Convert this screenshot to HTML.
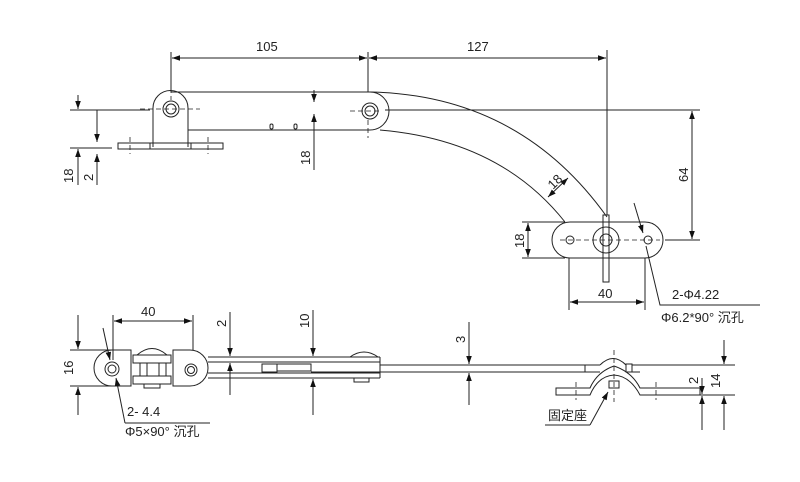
<!DOCTYPE html>
<html><head><meta charset="utf-8"><style>
html,body{margin:0;padding:0;background:#fff;}
svg{display:block;}
text{font-family:"Liberation Sans","Noto Sans CJK SC",sans-serif;font-size:13px;fill:#222;}
</style></head><body>
<svg width="800" height="482" viewBox="0 0 800 482" xmlns="http://www.w3.org/2000/svg">
<defs>
<marker id="a" viewBox="0 0 10 10" refX="10" refY="5" markerWidth="8" markerHeight="8" orient="auto-start-reverse"><path d="M0,1.5 L10,5 L0,8.5z" fill="#111"/></marker>
</defs>
<g stroke="#222" stroke-width="1" fill="none">
<path d="M153,147 L153,108 A17,17 0 0 1 188,108 L188,147"/>
<circle cx="171" cy="109" r="8"/><circle cx="171" cy="109" r="5"/>
<rect x="118" y="143" width="105" height="6"/>
<line x1="150" y1="143" x2="150" y2="149"/><line x1="191" y1="143" x2="191" y2="149"/>
<line x1="171" y1="92" x2="370" y2="92"/>
<line x1="188" y1="130" x2="370" y2="130"/>
<path d="M370,92 A18,18 0 0 1 370,130"/>
<circle cx="370" cy="111" r="8"/><circle cx="370" cy="111" r="5"/>
<rect x="270" y="124" width="3" height="5" rx="1.5"/><rect x="294" y="124" width="3" height="5" rx="1.5"/>
<path d="M370,92 Q520,95 607,217"/>
<path d="M380,130 Q500,140 565,222"/>
<path d="M570,222 L645,222 A18,18 0 0 1 645,258 L570,258 A18,18 0 0 1 570,222z"/>
<circle cx="570" cy="240" r="4"/><circle cx="648" cy="240" r="4"/>
<circle cx="606" cy="240" r="13"/><circle cx="606" cy="240" r="6"/>
<rect x="603" y="215" width="6" height="67"/>
<g stroke-dasharray="5,3" stroke-width="0.8">
<line x1="140" y1="109" x2="200" y2="109"/><line x1="171" y1="80" x2="171" y2="100"/>
<line x1="130" y1="137" x2="130" y2="154"/><line x1="208" y1="137" x2="208" y2="154"/>
<line x1="350" y1="111" x2="380" y2="111"/><line x1="368" y1="120" x2="368" y2="138"/>
<line x1="560" y1="240" x2="660" y2="240"/>
</g>
<line x1="171" y1="52" x2="171" y2="92"/><line x1="368" y1="52" x2="368" y2="92"/><line x1="607" y1="50" x2="607" y2="215"/>
<line x1="172" y1="58" x2="367" y2="58" marker-start="url(#a)" marker-end="url(#a)"/>
<line x1="369" y1="58" x2="606" y2="58" marker-start="url(#a)" marker-end="url(#a)"/>
<line x1="385" y1="110" x2="700" y2="110"/><line x1="665" y1="240" x2="700" y2="240"/>
<line x1="692" y1="111" x2="692" y2="239" marker-start="url(#a)" marker-end="url(#a)"/>
<line x1="522" y1="222" x2="565" y2="222"/><line x1="522" y1="258" x2="565" y2="258"/>
<line x1="528" y1="223" x2="528" y2="257" marker-start="url(#a)" marker-end="url(#a)"/>
<line x1="569" y1="258" x2="569" y2="310"/><line x1="645" y1="258" x2="645" y2="310"/>
<line x1="570" y1="302" x2="644" y2="302" marker-start="url(#a)" marker-end="url(#a)"/>
<line x1="548" y1="197" x2="568" y2="178" marker-start="url(#a)" marker-end="url(#a)"/>
<line x1="634" y1="203" x2="643" y2="233" marker-end="url(#a)"/>
<polyline points="646,246 660,305 760,305"/>
<line x1="70" y1="110" x2="150" y2="110"/><line x1="70" y1="148" x2="112" y2="148"/>
<line x1="78" y1="95" x2="78" y2="109" marker-end="url(#a)"/>
<line x1="78" y1="185" x2="78" y2="149" marker-end="url(#a)"/>
<line x1="97" y1="110" x2="97" y2="142" marker-end="url(#a)"/>
<line x1="97" y1="185" x2="97" y2="154" marker-end="url(#a)"/>
<line x1="314" y1="88" x2="314" y2="100" marker-end="url(#a)" transform="translate(0,2)"/>
<line x1="314" y1="170" x2="314" y2="114" marker-end="url(#a)"/>
<path d="M131,350 L112,350 A18,18 0 0 0 112,386 L131,386z"/>
<circle cx="112" cy="369" r="7"/><circle cx="112" cy="369" r="4"/>
<rect x="133" y="355" width="38" height="8"/><rect x="133" y="376" width="38" height="8"/>
<rect x="140" y="363" width="26" height="13"/><rect x="147" y="363" width="12" height="13"/>
<path d="M137,355 Q152,342 167,355"/>
<rect x="144" y="384" width="16" height="4"/>
<path d="M173,350 L190,350 A18,18 0 0 1 190,386 L173,386z"/>
<circle cx="191" cy="370" r="6"/><circle cx="191" cy="370" r="3.5"/>
<line x1="208" y1="357" x2="380" y2="357"/><line x1="208" y1="362" x2="380" y2="362"/>
<line x1="208" y1="373" x2="380" y2="373"/><line x1="208" y1="378" x2="380" y2="378"/>
<line x1="380" y1="357" x2="380" y2="378"/>
<rect x="262" y="364" width="15" height="8"/><rect x="277" y="364" width="34" height="7"/>
<line x1="311" y1="372" x2="380" y2="372"/>
<path d="M350,357 Q364,347 378,357"/>
<rect x="354" y="378" width="15" height="4"/>
<line x1="380" y1="365" x2="600" y2="365"/><line x1="380" y1="372" x2="600" y2="372"/>
<line x1="585" y1="365" x2="585" y2="372"/>
<path d="M600,365 Q613,352 626,365"/>
<rect x="626" y="364" width="6" height="8"/>
<line x1="632" y1="365" x2="720" y2="365"/><line x1="632" y1="372" x2="640" y2="372"/>
<path d="M556,388 L590,388 Q597,372 614,366 Q632,372 640,388 L700,388 L700,395 L640,395 Q630,376 614,375 Q598,376 590,395 L556,395z"/>
<rect x="609" y="381" width="10" height="7"/>
<g stroke-dasharray="5,3" stroke-width="0.8">
<line x1="576" y1="382" x2="576" y2="400"/><line x1="656" y1="382" x2="656" y2="400"/><line x1="614" y1="350" x2="614" y2="402"/>
</g>
<line x1="70" y1="350" x2="112" y2="350"/><line x1="70" y1="386" x2="112" y2="386"/>
<line x1="78" y1="315" x2="78" y2="349" marker-end="url(#a)"/>
<line x1="78" y1="415" x2="78" y2="387" marker-end="url(#a)"/>
<line x1="113" y1="315" x2="113" y2="360"/><line x1="193" y1="315" x2="193" y2="350"/>
<line x1="114" y1="321" x2="192" y2="321" marker-start="url(#a)" marker-end="url(#a)"/>
<line x1="230" y1="312" x2="230" y2="356" marker-end="url(#a)"/>
<line x1="230" y1="395" x2="230" y2="363" marker-end="url(#a)"/>
<line x1="313" y1="310" x2="313" y2="356" marker-end="url(#a)"/>
<line x1="313" y1="415" x2="313" y2="379" marker-end="url(#a)"/>
<line x1="469" y1="322" x2="469" y2="364" marker-end="url(#a)"/>
<line x1="469" y1="405" x2="469" y2="373" marker-end="url(#a)"/>
<line x1="720" y1="365" x2="735" y2="365"/><line x1="700" y1="395" x2="735" y2="395"/>
<line x1="724" y1="340" x2="724" y2="364" marker-end="url(#a)"/>
<line x1="724" y1="430" x2="724" y2="396" marker-end="url(#a)"/>
<line x1="702" y1="378" x2="702" y2="394" marker-end="url(#a)"/>
<line x1="702" y1="430" x2="702" y2="396" marker-end="url(#a)"/>
<line x1="103" y1="328" x2="110" y2="360" marker-end="url(#a)"/>
<polyline points="125,423 116,378" marker-end="url(#a)"/>
<line x1="125" y1="423" x2="210" y2="423"/>
<line x1="545" y1="425" x2="590" y2="425"/>
<line x1="590" y1="425" x2="608" y2="392" marker-end="url(#a)"/>
</g>
<text x="256" y="51">105</text>
<text x="467" y="51">127</text>
<text x="598" y="298">40</text>
<text x="672" y="299">2-Φ4.22</text>
<text x="661" y="322">Φ6.2*90° 沉孔</text>
<text x="141" y="316">40</text>
<text x="127" y="416">2-   4.4</text>
<text x="125" y="436">Φ5×90° 沉孔</text>
<text x="548" y="420">固定座</text>
<g>
<text transform="translate(73,183) rotate(-90)">18</text>
<text transform="translate(93,181) rotate(-90)">2</text>
<text transform="translate(310,165) rotate(-90)">18</text>
<text transform="translate(688,182) rotate(-90)">64</text>
<text transform="translate(524,248) rotate(-90)">18</text>
<text transform="translate(553,190) rotate(-45)">18</text>
<text transform="translate(73,375) rotate(-90)">16</text>
<text transform="translate(226,327) rotate(-90)">2</text>
<text transform="translate(309,328) rotate(-90)">10</text>
<text transform="translate(465,343) rotate(-90)">3</text>
<text transform="translate(698,384) rotate(-90)">2</text>
<text transform="translate(720,388) rotate(-90)">14</text>
</g>
</svg>
</body></html>
